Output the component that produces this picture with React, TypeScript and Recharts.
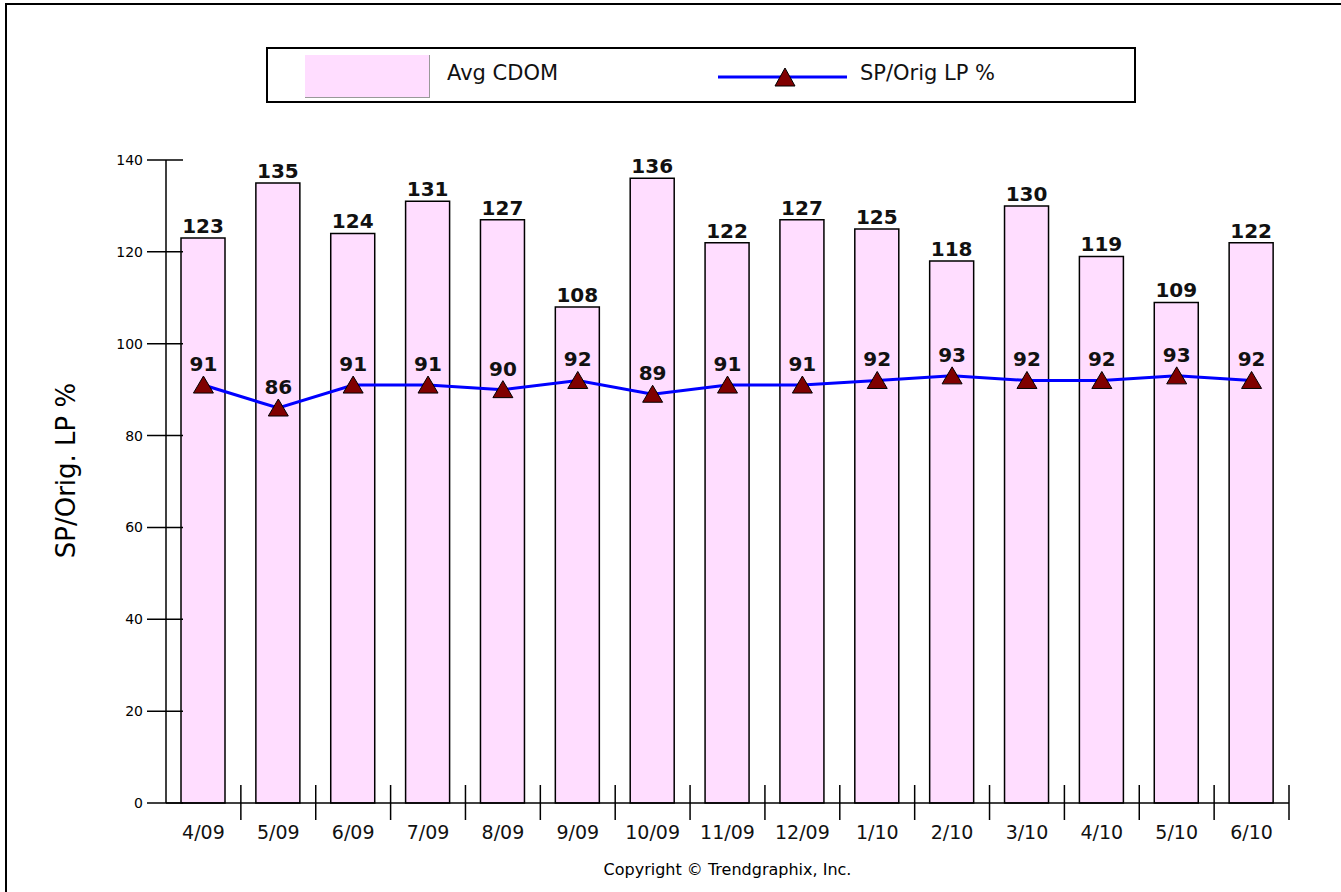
import React from "react";
import { Bar, ComposedChart, LabelList, Line, XAxis, YAxis } from "recharts";

const months = ["4/09", "5/09", "6/09", "7/09", "8/09", "9/09", "10/09", "11/09", "12/09", "1/10", "2/10", "3/10", "4/10", "5/10", "6/10"];
const avgCdom = [123, 135, 124, 131, 127, 108, 136, 122, 127, 125, 118, 130, 119, 109, 122];
const spOrigLp = [91, 86, 91, 91, 90, 92, 89, 91, 91, 92, 93, 92, 92, 93, 92];
const yTicks = [0, 20, 40, 60, 80, 100, 120, 140];

const data = months.map((m, i) => ({ month: m, cdom: avgCdom[i], lp: spOrigLp[i] }));

const FONT = "'DejaVu Sans', Verdana, sans-serif";
const PLOT_W = 1123;
const STEP = PLOT_W / months.length;

function YTick({ x, y, payload }: any) {
  return (
    <g>
      <line x1={x - 19} x2={x + 17} y1={y} y2={y} stroke="#000" strokeWidth={1.5} />
      <text x={x - 23} y={y + 5} textAnchor="end" fontSize={14} fontFamily={FONT} fill="#000">
        {payload.value}
      </text>
    </g>
  );
}

function XTick({ x, y, payload }: any) {
  return (
    <g>
      <line x1={x + STEP / 2} x2={x + STEP / 2} y1={y - 18} y2={y + 17} stroke="#000" strokeWidth={1.5} />
      <text x={x} y={y + 36} textAnchor="middle" fontSize={19} fontFamily={FONT} fill="#111">
        {payload.value}
      </text>
    </g>
  );
}

function Triangle({ cx, cy }: any) {
  if (cx == null || cy == null) return null;
  return (
    <polygon
      points={`${cx - 10},${cy + 8} ${cx},${cy - 9} ${cx + 10},${cy + 8}`}
      fill="#800000"
      stroke="#000"
      strokeWidth={1}
    />
  );
}

function YLabel({ viewBox }: any) {
  const cx = viewBox.x - 40;
  const cy = viewBox.y + viewBox.height / 2 - 11;
  return (
    <text x={cx} y={cy} transform={`rotate(-90 ${cx} ${cy})`} textAnchor="middle" dominantBaseline="central" fontSize={26} fontFamily={FONT} fill="#000">
      SP/Orig. LP %
    </text>
  );
}

function Copyright({ viewBox }: any) {
  return (
    <text x={viewBox.x + viewBox.width / 2} y={viewBox.y + 72} textAnchor="middle" fontSize={16} fontFamily={FONT} fill="#000">
      Copyright © Trendgraphix, Inc.
    </text>
  );
}

function ChartLegend() {
  return (
    <div
      style={{
        position: "absolute",
        left: 266,
        top: 47,
        width: 866,
        height: 52,
        border: "2px solid #000",
        background: "#fff",
        fontFamily: FONT,
        fontSize: 21,
        color: "#111",
      }}
    >
      <div style={{ position: "absolute", left: 37, top: 6, width: 124, height: 42, background: "#FFDDFF", borderRight: "1px solid #999", borderBottom: "1px solid #999" }} />
      <div style={{ position: "absolute", left: 179, top: 12 }}>Avg CDOM</div>
      <svg style={{ position: "absolute", left: 450, top: 10 }} width={130} height={32}>
        <line x1={0} x2={129} y1={18} y2={18} stroke="#0000FF" strokeWidth={3} />
        <polygon points="57,27 67,9 77,27" fill="#800000" stroke="#000" strokeWidth={1} />
      </svg>
      <div style={{ position: "absolute", left: 592, top: 12 }}>SP/Orig LP %</div>
    </div>
  );
}

export default function App() {
  return (
    <div style={{ position: "absolute", left: 0, top: 0, width: 1341, height: 892, overflow: "hidden", background: "#fff" }}>
      <div style={{ position: "absolute", left: 5, top: 3, width: 1400, height: 1000, borderLeft: "2px solid #000", borderTop: "2px solid #000" }} />
      <ChartLegend />
      <div style={{ position: "absolute", left: 0, top: 0 }}>
        <ComposedChart width={1341} height={892} data={data} margin={{ top: 160, right: 52, bottom: 49, left: 106 }}>
          <XAxis
            dataKey="month"
            height={40}
            tick={<XTick />}
            tickLine={false}
            tickSize={0}
            tickMargin={0}
            interval={0}
            axisLine={{ stroke: "#000", strokeWidth: 1.5 }}
            label={<Copyright />}
          />
          <YAxis
            width={60}
            domain={[0, 140]}
            ticks={yTicks}
            interval={0}
            tick={<YTick />}
            tickLine={false}
            tickSize={0}
            tickMargin={0}
            axisLine={{ stroke: "#000", strokeWidth: 1.5 }}
            label={<YLabel />}
          />
          <Bar dataKey="cdom" barSize={44} fill="#FFDDFF" stroke="#000" strokeWidth={1.5} isAnimationActive={false}>
            <LabelList dataKey="cdom" position="top" offset={5} fontSize={20} fontWeight="bold" fontFamily={FONT} fill="#111" />
          </Bar>
          <Line dataKey="lp" type="linear" stroke="#0000FF" strokeWidth={3} dot={<Triangle />} activeDot={false} isAnimationActive={false}>
            <LabelList dataKey="lp" position="top" offset={14} fontSize={20} fontWeight="bold" fontFamily={FONT} fill="#111" />
          </Line>
        </ComposedChart>
      </div>
    </div>
  );
}
